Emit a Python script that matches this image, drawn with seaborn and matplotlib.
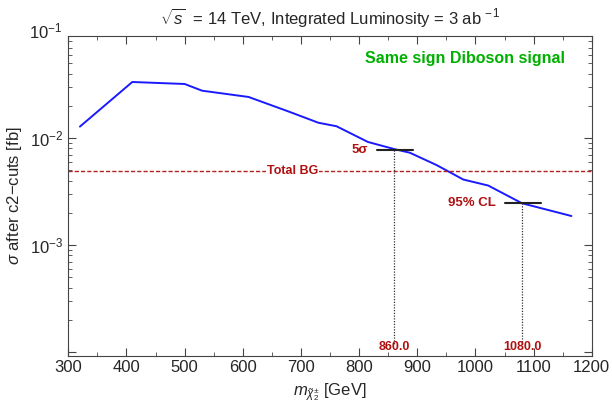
import numpy as np
import pandas as pd
import seaborn as sns
from matplotlib import pyplot as plt
from matplotlib.ticker import MultipleLocator, LogLocator, FixedLocator

# %% data
mass = [320, 410, 500, 530, 610, 680, 730, 761, 815, 860, 887, 933, 979, 1022, 1080, 1165]
sigma = [0.0128, 0.0334, 0.0320, 0.0277, 0.0242, 0.0176, 0.0139, 0.0129,
         0.0092, 0.0079, 0.0073, 0.0056, 0.0041, 0.0036, 0.00246, 0.00187]
total_bg = 0.0049
limit_names = ["5σ", "95% CL"]
limit_mass = [860.0, 1080.0]
limit_sigma = [0.0078, 0.00246]

df = pd.DataFrame({"mass": mass, "sigma": sigma})

# %% plot
sns.set_style("ticks")
plt.rcParams["font.family"] = ["Liberation Sans", "DejaVu Sans"]
plt.rcParams["mathtext.fontset"] = "custom"
plt.rcParams["mathtext.rm"] = "Liberation Sans"
plt.rcParams["mathtext.it"] = "Liberation Sans:italic"
plt.rcParams["mathtext.bf"] = "Liberation Sans:bold"

fig = plt.figure(figsize=(6.12, 4.12), dpi=100)
ax = fig.add_axes([0.1116, 0.137, 0.8554, 0.7756])

sns.lineplot(data=df, x="mass", y="sigma", color="#1a1aff", lw=1.4, ax=ax)
ax.set_yscale("log")
ax.set_xlim(300, 1200)
ax.set_ylim(9.3e-5, 0.0898)

darkred = "#b01010"
ax.axhline(total_bg, color="#b22222", ls=(0, (3, 1.5)), lw=1.0)
ax.text(685, total_bg, "Total BG", color=darkred, fontsize=9, fontweight="bold",
        ha="center", va="center",
        bbox=dict(facecolor="white", edgecolor="none", pad=0.5))

for name, m, s in zip(limit_names, limit_mass, limit_sigma):
    ax.plot([m - 30, m + 32], [s, s], color="#222222", lw=1.5)
    ax.plot([m, m], [s, 1.2e-4], color="#333333", ls=(0, (1, 1.2)), lw=0.9)
    ax.text(m - 45, s, name, color=darkred, fontsize=9.5, fontweight="bold",
            ha="right", va="center")
    ax.text(m, 1.12e-4, f"{m:.1f}", color=darkred, fontsize=9, fontweight="bold",
            ha="center", va="center")

ax.text(0.948, 0.931, "Same sign Diboson signal", transform=ax.transAxes,
        color="#00b000", fontsize=11.5, fontweight="bold", ha="right", va="center")

ax.xaxis.set_major_locator(MultipleLocator(100))
ax.xaxis.set_minor_locator(MultipleLocator(50))
ax.yaxis.set_major_locator(FixedLocator([1e-4, 1e-3, 1e-2]))
ax.yaxis.set_minor_locator(LogLocator(base=10, subs=np.arange(2, 10)))
ax.set_yticklabels(["", "$10^{-3}$", "$10^{-2}$"])
# 10^-1 sits just above the plot frame, as in the original
ax.text(-0.012, 0.1, "$10^{-1}$", transform=ax.get_yaxis_transform(), fontsize=12,
        ha="right", va="center", clip_on=False)
ax.tick_params(which="both", direction="in", top=True, right=True, color="#444444",
               labelsize=12)
ax.tick_params(which="major", length=6)
ax.tick_params(which="minor", length=3)
for sp in ax.spines.values():
    sp.set_color("#444444")

ax.set_xlabel("$m_{\\tilde{\\chi}^{\\pm}_{2}}$ [GeV]", fontsize=12)
ax.set_ylabel("$\\sigma$ after c2\u2212cuts [fb]", fontsize=12)
ax.set_title("$\\sqrt{s}$  = 14 TeV, Integrated Luminosity = 3 ab$^{\\,-1}$", fontsize=12, pad=9)

plt.savefig("out.png", dpi=100)
